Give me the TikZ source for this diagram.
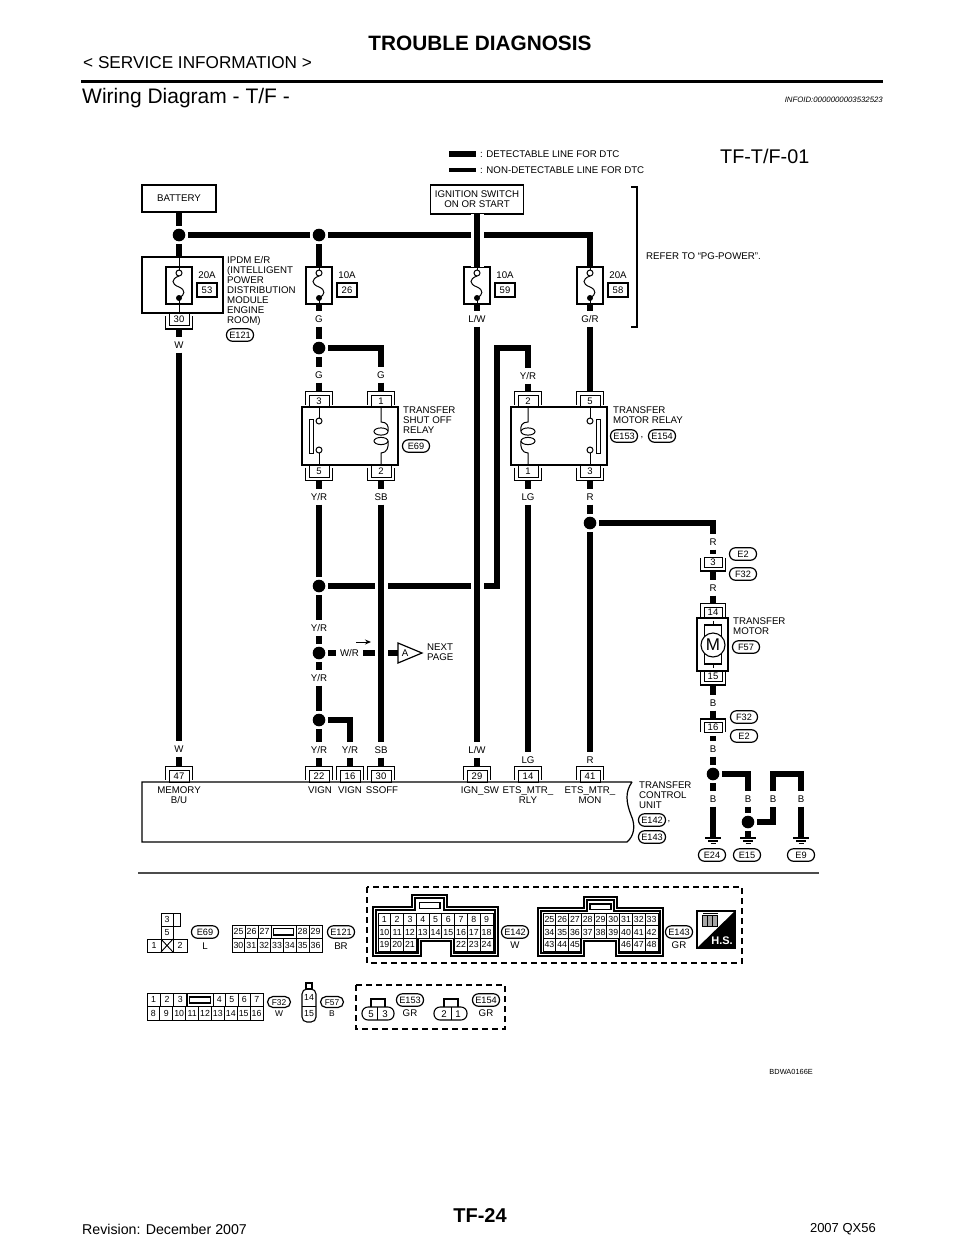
\documentclass[tikz,border=0pt]{standalone}
\usepackage{fontspec}
\setmainfont{Liberation Sans}
\usetikzlibrary{arrows.meta}
\newcommand\FS[1]{\fontsize{#1}{10}\selectfont}
\tikzset{
  wire/.style={line width=6pt,line cap=butt,line join=miter,draw=black},
  wirec/.style={wire,preaction={draw=white,line width=13pt}},
  thinw/.style={line width=1pt,draw=black},
  jn/.style={circle,fill=black,minimum size=12.6pt,inner sep=0pt,outer sep=3pt},
  lbl/.style={inner sep=0pt,text height=7pt,text depth=0pt,minimum height=15pt,font=\FS{9.7}},
  txt/.style={inner sep=0pt,anchor=west,text height=7pt,text depth=0pt,font=\FS{9.7}},
  mtxt/.style={inner sep=0pt,anchor=north west,align=left,font=\FS{9.7}},
  ctxt/.style={inner sep=0pt,align=center,font=\FS{9.7}},
  pin/.style={draw,line width=1pt,minimum width=20pt,minimum height=12pt,outer sep=3.5pt,inner sep=0pt,font=\FS{9.5},text height=6.8pt,text depth=0pt},
  pins/.style={pin,minimum width=18pt,minimum height=10pt},
  bx/.style={draw,line width=1.2pt,inner sep=0pt,outer sep=0pt},
  ampbox/.style={draw,line width=1.1pt,minimum width=20pt,minimum height=14pt,inner sep=0pt,font=\FS{9.5},text height=6.8pt,text depth=0pt},
  tag/.style={draw,line width=1.2pt,rounded corners=6pt,minimum width=27pt,minimum height=12.5pt,inner sep=0pt,font=\FS{9.2},text height=6.6pt,text depth=0pt},
  tags/.style={tag,minimum width=23pt,minimum height=11pt,rounded corners=5.5pt,font=\FS{8.4}},
  cellbox/.style={draw,line width=1pt,inner sep=0pt,outer sep=0pt,font=\FS{8.8},text height=6.3pt,text depth=0pt},
  dashbox/.style={line width=1.2pt,dash pattern=on 6pt off 4pt},
  conn/.style={line width=1.1pt,draw=black,line join=miter},
}
\newcommand\Jn[3]{\node[jn] (#1) at (#2,#3) {};}
\newcommand\Lab[4]{\node[lbl] (#1) at (#2,#3) {#4};}
\newcommand\Tag[4]{\node[tag] (#1) at (#2,#3) {#4};}
\newcommand\Tags[4]{\node[tags] (#1) at (#2,#3) {#4};}
\newcommand\PinT[5][pin]{\node[#1] (#2) at (#3,#4) {#5};
  \draw[line width=1.1pt] ([yshift=-13pt]#2.north west) -- (#2.north west) -- (#2.north east) -- ([yshift=-13pt]#2.north east);}
\newcommand\PinB[5][pin]{\node[#1] (#2) at (#3,#4) {#5};
  \draw[line width=1.1pt] ([yshift=13pt]#2.south west) -- (#2.south west) -- (#2.south east) -- ([yshift=13pt]#2.south east);}
% fuse: name, x, amp text, number
\newcommand\Fuse[4]{%
  \node[bx,minimum width=26pt,minimum height=37pt] (#1) at (#2,285.5) {};
  \node[inner sep=0pt,font=\FS{9.7},text height=7pt,text depth=0pt] (#1a) at (#2+28,275) {#3};
  \node[ampbox] (#1n) at (#2+28,290) {#4};
  \draw[thinw] (#2,267) -- (#2,270);
  \draw[thinw] (#2,273) circle (3);
  \draw[thinw] (#2,276) .. controls (#2-8,279) and (#2-8,284) .. (#2,287) .. controls (#2+7,290) and (#2+6,295) .. (#2,298);
  \fill (#2,298) circle (3);
  \draw[thinw] (#2,298) -- (#2,304);
}
% coil: x, sign of the bulge
\newcommand\Coil[2]{%
  \draw[thinw] (#1,407) -- (#1,422) .. controls (#1+#2*6,422) and (#1+#2*8,426) .. (#1+#2*7,431);
  \draw[thinw] (#1,431.5) ellipse (7 and 3.6);
  \draw[thinw] (#1,441) ellipse (7 and 3.6);
  \draw[thinw] (#1+#2*7,441) .. controls (#1+#2*8,447) and (#1+#2*6,453) .. (#1,453) -- (#1,465);
}
% contact: x, bar x left
\newcommand\Contact[2]{%
  \draw[thinw] (#1,407) -- (#1,418);
  \draw[thinw] (#1,421) circle (3);
  \draw[thinw] (#1,450) circle (3);
  \draw[thinw] (#1,453) -- (#1,465);
  \draw[line width=1pt] (#2,419) rectangle (#2+4,453);
}
\newcommand\CellRow[6]{%
  \foreach \t [count=\i from 0] in {#6} {
    \pgfmathsetmacro\cx{#2+(\i+0.5)*#4}
    \pgfmathsetmacro\cy{#3+0.5*#5}
    \node[cellbox,minimum width=#4pt,minimum height=#5pt] (#1-\i) at (\cx,\cy) {\t};
  }}
\newcommand\Ground[3]{%
  \coordinate (#1) at (#2,#3);
  \draw[line width=1.2pt] (#2-8,#3) -- (#2+8,#3);
  \draw[line width=1.1pt] (#2-5,#3+3) -- (#2+5,#3+3);
  \draw[line width=1.1pt] (#2-2.5,#3+5.5) -- (#2+2.5,#3+5.5);
}
\begin{document}
\begin{tikzpicture}[x=1pt,y=-1pt]
\useasboundingbox (0,0) rectangle (960,1242);
\fill[white] (0,0) rectangle (960,1242);
% ---- page furniture
\node[inner sep=0pt,font=\fontsize{20.8}{22}\selectfont\bfseries] (title) at (480,43) {TROUBLE DIAGNOSIS};
\node[inner sep=0pt,anchor=west,font=\fontsize{17.2}{18}\selectfont] (svc) at (83,63) {< SERVICE INFORMATION >};
\draw[line width=3pt] (81,81) -- (883,81);
\node[inner sep=0pt,anchor=west,font=\fontsize{21}{22}\selectfont] (wd) at (82,98) {Wiring Diagram - T/F -};
\node[inner sep=0pt,anchor=east,font=\fontsize{7.8}{8}\selectfont\itshape] (info) at (883,100) {INFOID:0000000003532523};
\node[inner sep=0pt,anchor=east,font=\fontsize{7.4}{8}\selectfont] (bdwa) at (813,1072) {BDWA0166E};
\node[inner sep=0pt,font=\fontsize{20}{22}\selectfont\bfseries] (pg) at (480,1216) {TF-24};
\node[inner sep=0pt,anchor=west,font=\fontsize{14.2}{15}\selectfont] (rev) at (82,1229) {Revision: December 2007};
\node[inner sep=0pt,anchor=east,font=\fontsize{13}{14}\selectfont] (qx) at (876,1229) {2007 QX56};
% ---- legend and titles
\coordinate (lg1a) at (449,154); \coordinate (lg1b) at (476,154);
\coordinate (lg2a) at (449,170); \coordinate (lg2b) at (476,170);
\draw[line width=6pt] (lg1a) -- (lg1b);
\draw[line width=3.6pt] (lg2a) -- (lg2b);
\node[txt] (lt1) at (480,154) {: DETECTABLE LINE FOR DTC};
\node[txt] (lt2) at (480,170) {: NON-DETECTABLE LINE FOR DTC};
\node[inner sep=0pt,anchor=west,font=\fontsize{19.8}{22}\selectfont] (tf) at (720,156) {TF-T/F-01};
% ---- sources
\node[bx,minimum width=74pt,minimum height=27pt,font=\FS{9.7}] (bat) at (179,198.5) {BATTERY};
\node[bx,minimum width=93pt,minimum height=29pt,align=center,font=\FS{9.7}] (ign) at (477,199.5) {IGNITION SWITCH\\ON OR START};
\Jn{j1}{179}{235}
\Jn{j2}{319}{235}
\node[bx,minimum width=81pt,minimum height=56pt] (ipdm) at (182.5,285) {};
\Fuse{f53}{179}{20A}{53}
\Fuse{f26}{319}{10A}{26}
\Fuse{f59}{477}{10A}{59}
\Fuse{f58}{590}{20A}{58}
\PinB{p30a}{179}{319.5}{30}
\node[mtxt] (ipdmt) at (227,256) {IPDM E/R\\(INTELLIGENT\\POWER\\DISTRIBUTION\\MODULE\\ENGINE\\ROOM)};
\Tag{e121a}{240}{335}{E121}
\coordinate (br1) at (631,187); \coordinate (br2) at (637,187); \coordinate (br3) at (637,327); \coordinate (br4) at (631,327);
\draw[line width=1.2pt] (br1) -- (br2) -- (br3) -- (br4);
\node[txt] (ref) at (646,256) {REFER TO “PG-POWER”.};
% ---- labels
\Lab{lW1}{179}{345}{W}
\Lab{lW2}{179}{749}{W}
\Lab{lG1}{319}{319}{G}
\Jn{jG}{319}{348}
\Lab{lG2}{319}{375}{G}
\Lab{lG3}{381}{375}{G}
\Lab{lLW1}{477}{319}{L/W}
\Lab{lLW2}{477}{750}{L/W}
\Lab{lGR}{590}{319}{G/R}
\Lab{lYR6}{528}{376}{Y/R}
\Lab{lYR1}{319}{497}{Y/R}
\Lab{lSB1}{381}{497}{SB}
\Lab{lLG1}{528}{497}{LG}
\Lab{lR1}{590}{497}{R}
\Jn{jR}{590}{523}
\Jn{jA}{319}{586}
\Lab{lYR2}{319}{628}{Y/R}
\Jn{jB}{319}{653}
\Lab{lYR3}{319}{678}{Y/R}
\Jn{jC}{319}{720}
\Lab{lYR4}{319}{750}{Y/R}
\Lab{lYR5}{350}{750}{Y/R}
\Lab{lSB2}{381}{750}{SB}
\Lab{lLG2}{528}{760}{LG}
\Lab{lR2}{590}{760}{R}
\node[lbl,minimum width=27pt] (lWR) at (349.5,653) {W/R};
% ---- relays
\PinT{r3}{319}{401}{3}
\PinT{r1}{381}{401}{1}
\node[bx,minimum width=96pt,minimum height=58pt] (rel1) at (350,436) {};
\PinB{r5}{319}{471}{5}
\PinB{r2}{381}{471}{2}
\Contact{319}{309}
\Coil{381}{1}
\node[mtxt] (rel1t) at (403,406.5) {TRANSFER\\SHUT OFF\\RELAY};
\Tag{e69a}{416}{446}{E69}
\PinT{m2}{528}{401}{2}
\PinT{m5}{590}{401}{5}
\node[bx,minimum width=96pt,minimum height=58pt] (rel2) at (559,436) {};
\PinB{m1}{528}{471}{1}
\PinB{m3}{590}{471}{3}
\Coil{528}{-1}
\Contact{590}{596}
\node[mtxt] (rel2t) at (613,406.5) {TRANSFER\\MOTOR RELAY};
\Tag{e153a}{624}{436}{E153}
\node[inner sep=0pt,font=\FS{9.7}] (cm1) at (642,438) {,};
\Tag{e154a}{662}{436}{E154}
% ---- next page marker
\coordinate (tA) at (398,643); \coordinate (tB) at (398,663); \coordinate (tC) at (422,653);
\coordinate (aIn) at (398,653);
\draw[line width=1.2pt,fill=white] (tA) -- (tC) -- (tB) -- cycle;
\node[inner sep=0pt,font=\FS{9.7}] (aT) at (405,653) {A};
\node[mtxt] (nxt) at (427,643.5) {NEXT\\PAGE};
\coordinate (ar1) at (356,642); \coordinate (ar2) at (371,642);
\draw[line width=1pt,-{Stealth[length=6pt,width=5pt]}] (ar1) -- (ar2);
% ---- motor branch
\Lab{lR3}{713}{542}{R}
\PinB[pins]{e3}{713}{562.5}{3}
\Tag{e2a}{743}{554}{E2}
\Tag{f32a}{743}{574}{F32}
\Lab{lR4}{713}{588}{R}
\PinT[pins]{mo14}{713}{612}{14}
\node[bx,minimum width=31pt,minimum height=53pt] (mot) at (712.5,644.5) {};
\node[bx,minimum width=17pt,minimum height=39pt] (motin) at (713,644.5) {};
\node[draw,circle,line width=1.1pt,fill=white,minimum size=24pt,inner sep=0pt,font=\fontsize{17}{18}\selectfont] (M) at (713,645) {M};
\PinB[pins]{mo15}{713}{676.5}{15}
\node[mtxt] (mott) at (733,617.5) {TRANSFER\\MOTOR};
\Tag{f57a}{746}{647}{F57}
\Lab{lB1}{713}{703}{B}
\PinT[pins]{e16}{713}{727.5}{16}
\Tag{f32b}{744}{717}{F32}
\Tag{e2b}{744}{736}{E2}
\Lab{lB2}{713}{749}{B}
\Jn{jG1}{713}{774}
\Lab{lB3}{713}{799}{B}
\Lab{lB4}{748}{799}{B}
\Jn{jG2}{748}{822}
\Lab{lB5}{773}{799}{B}
\Lab{lB6}{801}{799}{B}
\Ground{g1}{713}{838}
\Ground{g2}{748}{838}
\Ground{g3}{801}{838}
\Tag{e24}{712}{855}{E24}
\Tag{e15}{747}{855}{E15}
\Tag{e9}{801}{855}{E9}
\coordinate (bt1) at (773,774); \coordinate (bt2) at (801,774);
% ---- control unit
\PinT{u47}{179}{776}{47}
\PinT{u22}{319}{776}{22}
\PinT{u16}{350}{776}{16}
\PinT{u30}{381}{776}{30}
\PinT{u29}{477}{776}{29}
\PinT{u14}{528}{776}{14}
\PinT{u41}{590}{776}{41}
\coordinate (uA) at (142,782); \coordinate (uB) at (632,782); \coordinate (uC) at (142,842); \coordinate (uD) at (627,842);
\draw[line width=1.2pt] (uB) -- (uA) -- (uC) -- (uD) .. controls (634,836) and (636,826) .. (631,815) .. controls (626,802) and (625,792) .. (uB);
\node[ctxt] (tMem) at (179,795) {MEMORY\\B/U};
\node[ctxt] (tV1) at (320,790) {VIGN};
\node[ctxt] (tV2) at (350,790) {VIGN};
\node[ctxt] (tSS) at (382,790) {SSOFF};
\node[ctxt] (tIG) at (480,791) {IGN\_SW};
\node[ctxt] (tE1) at (528,795) {ETS\_MTR\_\\RLY};
\node[ctxt] (tE2) at (590,795) {ETS\_MTR\_\\MON};
\node[mtxt] (tU) at (639,781.5) {TRANSFER\\CONTROL\\UNIT};
\Tag{e142a}{652}{820}{E142}
\node[inner sep=0pt,font=\FS{9.7}] (cm2) at (669,822) {,};
\Tag{e143a}{652}{837}{E143}
% ---- horizontal wires first, crossed by the cased verticals
\coordinate (c58) at (590,235);
\coordinate (c1) at (497,586); \coordinate (c2) at (497,348); \coordinate (c3) at (528,348);
\coordinate (gS1) at (179,257);
\draw[wire] (bat) -- (j1);
\draw[wire] (j1) -- (gS1);
\draw[thinw] (gS1) -- (f53.north);
\draw[thinw] (f53.south) -- (ipdm.south -| f53.south);
\draw[wire] (p30a) -- (lW1);
\draw[wire] (lW1) -- (lW2);
\draw[wire] (lW2) -- (u47);
\draw[wire] (j1) -- (j2);
\draw[wire] (j2) -- (f26);
\draw[wire] (j2) -- (c58) -- (f58);
\draw[wire] (f26) -- (lG1);
\draw[wire] (lG1) -- (jG);
\draw[wire] (jG) -- (lG2);
\draw[wire] (jG) -| (lG3);
\draw[wire] (lG2) -- (r3);
\draw[wire] (lG3) -- (r1);
\draw[wire] (r5) -- (lYR1);
\draw[wire] (lYR1) -- (jA);
\draw[wire] (jA) -- (lYR2);
\draw[wire] (lYR2) -- (jB);
\draw[wire] (jB) -- (lYR3);
\draw[wire] (lYR3) -- (jC);
\draw[wire] (jC) -- (lYR4);
\draw[wire] (lYR4) -- (u22);
\draw[wire] (jC) -| (lYR5);
\draw[wire] (lYR5) -- (u16);
\draw[wire] (jA) -- (c1) -- (c2) -- (c3) -- (lYR6);
\draw[wire] (lYR6) -- (m2);
\draw[wire] (jB) -- (lWR);
\draw[wire] (lWR) -- (aIn);
\draw[wire] (f58) -- (lGR);
\draw[wire] (lGR) -- (m5);
\draw[wire] (m3) -- (lR1);
\draw[wire] (lR1) -- (jR);
\draw[wire] (jR) -- (lR2);
\draw[wire] (m1) -- (lLG1);
\draw[wire] (lLG1) -- (lLG2);
\draw[wire] (jR) -| (lR3);
\draw[wire] (lR3) -- (e3);
\draw[wire] (e3) -- (lR4);
\draw[wire] (lR4) -- (mo14);
\draw[wire] (mo15) -- (lB1);
\draw[wire] (lB1) -- (e16);
\draw[wire] (e16) -- (lB2);
\draw[wire] (lB2) -- (jG1);
\draw[wire] (jG1) -- (lB3);
\draw[wire] (lB3) -- (g1);
\draw[wire] (jG1) -| (lB4);
\draw[wire] (lB4) -- (jG2);
\draw[wire] (jG2) -- (g2);
\draw[wire] (jG2) -| (lB5);
\draw[wire] (lB5) -- (bt1) -- (bt2) -- (lB6);
\draw[wire] (lB6) -- (g3);
% verticals that cross
\draw[wirec] (ign) -- (f59);
\draw[wirec] (lLW1) -- (lLW2);
\draw[wire] (f59) -- (lLW1);
\draw[wire] (lLW2) -- (u29);
\draw[wire] (r2) -- (lSB1);
\draw[wirec] (lSB1) -- (lSB2);
\draw[wire] (lSB2) -- (u30);
% thin lines in the motor
\draw[thinw] (mo14.south) -- (motin.north);
\draw[thinw] (motin.south) -- (mo15.north);
\coordinate (ru1) at (138,873); \coordinate (ru2) at (819,873);
\draw[line width=2.2pt,draw=black!70] (ru1) -- (ru2);
% ---- connector views: E69
\node[cellbox,minimum width=12pt,minimum height=13pt] (v3) at (167,919.5) {3};
\draw[line width=1pt] (173,913) rectangle (180,926);
\node[cellbox,minimum width=12pt,minimum height=13pt] (v5) at (167,932.5) {5};
\node[cellbox,minimum width=14pt,minimum height=13pt] (v1) at (154,945.5) {1};
\node[cellbox,minimum width=12pt,minimum height=13pt] (vx) at (167,945.5) {};
\draw[line width=.9pt] (vx.north west) -- (vx.south east) (vx.north east) -- (vx.south west);
\node[cellbox,minimum width=14pt,minimum height=13pt] (v2) at (180,945.5) {2};
\Tag{e69b}{205}{932}{E69}
\Lab{tL}{205}{946}{L}
% E121
\CellRow{a}{232}{925}{13}{13.5}{25,26,27}
\node[cellbox,minimum width=25pt,minimum height=13.5pt] (agap) at (283.5,931.75) {};
\draw[line width=1.5pt] (273.5,928.5) rectangle (293.5,935);
\CellRow{b}{296}{925}{13}{13.5}{28,29}
\CellRow{c}{232}{938.5}{12.857}{13.5}{30,31,32,33,34,35,36}
\Tag{e121b}{341}{932}{E121}
\Lab{tBR}{341}{946}{BR}
% F32
\CellRow{d}{147}{993}{13.33}{13.5}{1,2,3}
\node[cellbox,minimum width=26pt,minimum height=13.5pt] (dgap) at (200,999.75) {};
\draw[line width=1.5pt] (189.5,997) rectangle (210.5,1003);
\CellRow{e}{213}{993}{12.5}{13.5}{4,5,6,7}
\CellRow{f}{147}{1006.5}{12.889}{13.5}{8,9,10,11,12,13,14,15,16}
\Tags{f32c}{279}{1002}{F32}
\node[inner sep=0pt,font=\FS{8.4}] (tW) at (279,1013.5) {W};
% F57
\draw[line width=1.1pt] (306,983) rectangle (312,989);
\draw[line width=1.1pt,rounded corners=5pt] (302,1006) -- (302,989) -- (316,989) -- (316,1006);
\draw[line width=1.1pt,rounded corners=5pt] (302,1006) -- (302,1022) -- (316,1022) -- (316,1006);
\draw[line width=1pt] (302,1006) -- (316,1006);
\node[inner sep=0pt,font=\FS{8.8}] (t14) at (309,997.5) {14};
\node[inner sep=0pt,font=\FS{8.8}] (t15) at (309,1014) {15};
\Tags{f57b}{332}{1002}{F57}
\node[inner sep=0pt,font=\FS{8.4}] (tB) at (332,1013.5) {B};
% dashed boxes
\draw[dashbox] (356,985) rectangle (505,1029);
\draw[dashbox] (367,887) rectangle (742,963);
% E153 / E154
\draw[line width=1.1pt] (371,1007) -- (371,999) -- (385,999) -- (385,1007);
\draw[line width=1.1pt,rounded corners=6pt] (362,1007) rectangle (394,1020);
\draw[line width=1pt] (377.5,1007) -- (377.5,1020);
\node[inner sep=0pt,font=\FS{9.7}] (t5) at (371,1014) {5};
\node[inner sep=0pt,font=\FS{9.7}] (t3) at (385,1014) {3};
\Tag{e153b}{410}{1000}{E153}
\Lab{tGR1}{410}{1013}{GR}
\draw[line width=1.1pt] (444,1007) -- (444,999) -- (458,999) -- (458,1007);
\draw[line width=1.1pt,rounded corners=6pt] (434,1007) rectangle (467,1020);
\draw[line width=1pt] (451,1007) -- (451,1020);
\node[inner sep=0pt,font=\FS{9.7}] (t2) at (444,1014) {2};
\node[inner sep=0pt,font=\FS{9.7}] (t1) at (458,1014) {1};
\Tag{e154b}{486}{1000}{E154}
\Lab{tGR2}{486}{1013}{GR}
% E142
\draw[conn] (373,907)--(412,907)--(412,895)--(447,895)--(447,907)--(498,907)--(498,956)--(451,956)--(451,941)--(421,941)--(421,956)--(373,956)--cycle;
\draw[conn] (376,910)--(415,910)--(415,898)--(444,898)--(444,910)--(495,910)--(495,953)--(454,953)--(454,938.5)--(418,938.5)--(418,953)--(376,953)--cycle;
\draw[line width=1.5pt] (419.5,902.5) rectangle (440,908.5);
\CellRow{g}{378}{913}{12.78}{12.67}{1,2,3,4,5,6,7,8,9}
\CellRow{h}{378}{925.67}{12.78}{12.67}{10,11,12,13,14,15,16,17,18}
\CellRow{i}{378}{938.33}{12.78}{12.67}{19,20,21}
\CellRow{j}{454.67}{938.33}{12.78}{12.67}{22,23,24}
\Tag{e142b}{515}{932}{E142}
\Lab{tW2}{515}{945}{W}
% E143
\draw[conn] (538,908)--(584,908)--(584,897)--(617,897)--(617,908)--(663,908)--(663,956)--(616,956)--(616,941)--(584,941)--(584,956)--(538,956)--cycle;
\draw[conn] (541,911)--(587,911)--(587,900)--(614,900)--(614,911)--(660,911)--(660,953)--(619,953)--(619,938.5)--(581,938.5)--(581,953)--(541,953)--cycle;
\draw[line width=1.5pt] (590,904) rectangle (611,909.5);
\CellRow{k}{543}{913}{12.78}{12.67}{25,26,27,28,29,30,31,32,33}
\CellRow{l}{543}{925.67}{12.78}{12.67}{34,35,36,37,38,39,40,41,42}
\CellRow{m}{543}{938.33}{12.78}{12.67}{43,44,45}
\CellRow{n}{619.67}{938.33}{12.78}{12.67}{46,47,48}
\Tag{e143b}{679}{932}{E143}
\Lab{tGR3}{679}{945}{GR}
% H.S. badge
\fill[black] (735,911) -- (735,948) -- (697,948) -- cycle;
\draw[line width=1.1pt] (697,911) rectangle (735,948);
\foreach \dx in {0,5,10} {
  \draw[line width=.8pt,fill=black!35] (702+\dx,915) rectangle (707.5+\dx,926);
}
\draw[line width=.8pt] (703,913.5) -- (718,913.5);
\node[inner sep=0pt,text=white,font=\fontsize{11}{12}\selectfont\bfseries] (hs) at (722,941) {H.S.};
\end{tikzpicture}
\end{document}
